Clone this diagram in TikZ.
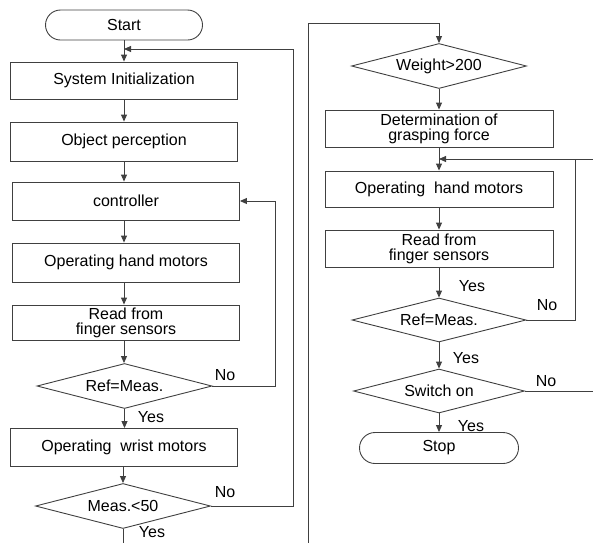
\documentclass[tikz,border=0pt]{standalone}
\usepackage{fontspec}
\setmainfont{Liberation Sans}
\usetikzlibrary{shapes.geometric,shapes.misc,arrows.meta}
\begin{document}
\begin{tikzpicture}[x=1pt,y=-1pt,
  every node/.style={font=\fontsize{16}{15}\selectfont, text=black},
  box/.style={draw=black!75, line width=0.9pt, rectangle, minimum width=227pt, inner sep=0pt, align=center},
  dec/.style={draw=black!75, line width=0.9pt, diamond, aspect=4, inner sep=0pt, minimum width=175pt, minimum height=45pt},
  term/.style={draw=black!75, line width=0.9pt, rounded rectangle, inner sep=0pt, minimum height=30pt},
  flow/.style={draw=black!75, line width=0.9pt},
  arr/.style={flow, -{Triangle[length=7pt,width=6pt]}},
  lbl/.style={inner sep=0pt}
]
\useasboundingbox (0,0) rectangle (593,542);

% ---------- left column ----------
\node[term, minimum width=157pt] (start) at (124,25) {Start};
\node[box, minimum height=37pt] (init) at (124,80.5) {System Initialization};
\node[box, minimum height=39pt] (perc) at (124,141.5) {Object perception};
\node[box, minimum height=38pt] (ctrl) at (126,201) {controller};
\node[box, minimum height=39pt] (hand) at (126,262.5) {Operating hand motors};
\node[box, minimum height=35pt] (read) at (126,322.5) {Read from\\finger sensors};
\node[dec] (ref) at (124.5,386) {Ref=Meas.};
\node[box, minimum height=38pt] (wrist) at (124,447.5) {Operating\ \ wrist motors};
\node[dec] (meas) at (123,506) {Meas.<50};

\coordinate (j1) at (124,49);
\coordinate (c1) at (275,386);
\coordinate (c2) at (275,201);
\coordinate (c3) at (293,506);
\coordinate (c4) at (293,49);
\coordinate (bL) at (123,545);

\draw[arr] (start.south) -- (init.north);
\draw[arr] (init.south) -- (init.south |- perc.north);
\draw[arr] (perc.south) -- (perc.south |- ctrl.north);
\draw[arr] (perc.south |- ctrl.south) -- (perc.south |- hand.north);
\draw[arr] (perc.south |- hand.south) -- (perc.south |- read.north);
\draw[arr] (perc.south |- read.south) -- (perc.south |- ref.north);
\draw[arr] (ref.south) -- (ref.south |- wrist.north);
\draw[arr] (wrist.south -| meas.north) -- (meas.north);
\draw[flow] (meas.south) -- (bL);
\draw[arr] (ref.east) -- (c1) -- (c2) -- (ctrl.east);
\draw[arr] (meas.east) -- (c3) -- (c4) -- (j1);

\node[lbl] (n1) at (225,375) {No};
\node[lbl] (y1) at (151,417) {Yes};
\node[lbl] (n2) at (225,492) {No};
\node[lbl] (y2) at (152,532) {Yes};

% ---------- right column ----------
\node[dec] (wt) at (439,66) {Weight>200};
\node[box, minimum width=228pt, minimum height=37pt] (det) at (439,128.5) {Determination of\\grasping force};
\node[box, minimum width=228pt, minimum height=36pt] (hand2) at (439,189) {Operating\ \ hand motors};
\node[box, minimum width=228pt, minimum height=37pt] (read2) at (439,248.5) {Read from\\finger sensors};
\node[dec, minimum width=174pt, minimum height=44pt] (ref2) at (439,320) {Ref=Meas.};
\node[dec, minimum width=171pt, minimum height=44pt] (sw) at (439,391) {Switch on};
\node[term, minimum width=159pt, minimum height=31pt] (stop) at (439,448) {Stop};

\coordinate (bR) at (308,545);
\coordinate (tR) at (308,23);
\coordinate (tC) at (439,23);
\coordinate (j2) at (439,159);
\coordinate (d1) at (575,320);
\coordinate (d2) at (575,159);
\coordinate (d3) at (593,159);
\coordinate (e1) at (593,391);

\draw[arr] (bR) -- (tR) -- (tC) -- (wt.north);
\draw[arr] (wt.south) -- (det.north);
\draw[flow] (det.south) -- (j2);
\draw[arr] (j2) -- (hand2.north);
\draw[arr] (hand2.south) -- (read2.north);
\draw[arr] (read2.south) -- (ref2.north);
\draw[arr] (ref2.south) -- (sw.north);
\draw[arr] (sw.south) -- (stop.north);
\draw[arr] (ref2.east) -- (d1) -- (d2) -- (j2);
\draw[flow] (d3) -- (d2);
\draw[flow] (sw.east) -- (e1);

\node[lbl] (y3) at (472,286) {Yes};
\node[lbl] (n3) at (547,305) {No};
\node[lbl] (y4) at (466,358) {Yes};
\node[lbl] (n4) at (546,381) {No};
\node[lbl] (y5) at (471,426) {Yes};
\end{tikzpicture}
\end{document}
